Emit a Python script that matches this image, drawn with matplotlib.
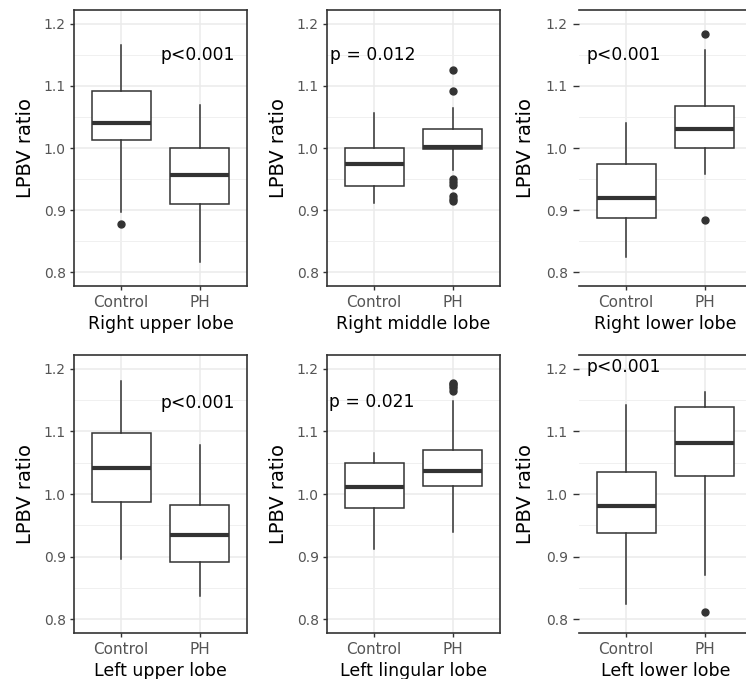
import matplotlib
matplotlib.use("Agg")
import matplotlib.pyplot as plt
import numpy as np

plt.rcParams['font.family'] = ['DejaVu Sans']

# lobes, in panel order (row by row)
lobes = ["Right upper lobe", "Right middle lobe", "Right lower lobe",
         "Left upper lobe", "Left lingular lobe", "Left lower lobe"]
groups = ["Control", "PH"]
p_labels = ["p<0.001", "p = 0.012", "p<0.001", "p<0.001", "p = 0.021", "p<0.001"]
p_x = [1.97, 0.985, 0.97, 1.97, 0.97, 0.97]
p_y = [1.149, 1.149, 1.149, 1.146, 1.147, 1.203]

# box statistics: [whislo, q1, med, q3, whishi]
control_stats = [
    [0.897, 1.013, 1.041, 1.092, 1.165],
    [0.911, 0.939, 0.975, 1.000, 1.056],
    [0.825, 0.888, 0.920, 0.975, 1.040],
    [0.896, 0.988, 1.041, 1.098, 1.181],
    [0.912, 0.978, 1.011, 1.049, 1.066],
    [0.824, 0.937, 0.981, 1.035, 1.142],
]
ph_stats = [
    [0.816, 0.910, 0.957, 1.000, 1.069],
    [0.964, 0.998, 1.001, 1.031, 1.064],
    [0.958, 1.000, 1.030, 1.068, 1.158],
    [0.837, 0.891, 0.934, 0.982, 1.078],
    [0.940, 1.013, 1.036, 1.070, 1.148],
    [0.870, 1.029, 1.082, 1.139, 1.163],
]
control_out = [[0.877], [], [], [], [], []]
ph_out = [
    [],
    [1.126, 1.091, 0.950, 0.945, 0.941, 0.922, 0.918, 0.915],
    [1.184, 0.884],
    [],
    [1.165, 1.169, 1.172, 1.175, 1.178],
    [0.812],
]

W, H = 746, 679
fig = plt.figure(figsize=(W / 100, H / 100), dpi=100)

col_left = [74, 327, 579]
ax_w = 173
row_top = [10, 355]
ax_h = [276, 278]

line_col = "#333333"
tick_col = "#555555"

def make_stats(s, out):
    return dict(whislo=s[0], q1=s[1], med=s[2], q3=s[3], whishi=s[4], fliers=out)

for i, lobe in enumerate(lobes):
    r, c = divmod(i, 3)
    left = col_left[c] / W
    bottom = 1 - (row_top[r] + ax_h[r]) / H
    ax = fig.add_axes([left, bottom, ax_w / W, ax_h[r] / H])

    stats = [make_stats(control_stats[i], control_out[i]),
             make_stats(ph_stats[i], ph_out[i])]
    ax.bxp(stats, positions=[1, 2], widths=0.75, showcaps=False, patch_artist=True,
           boxprops=dict(facecolor="white", edgecolor=line_col, linewidth=1.1),
           whiskerprops=dict(color=line_col, linewidth=1.1),
           medianprops=dict(color=line_col, linewidth=3),
           flierprops=dict(marker="o", markerfacecolor=line_col, markeredgecolor=line_col,
                           markersize=5),
           zorder=3)

    ax.set_xlim(0.4, 2.6)
    ax.set_ylim(0.778, 1.222)
    ax.set_yticks([0.8, 0.9, 1.0, 1.1, 1.2])
    ax.set_yticklabels(["0.8", "0.9", "1.0", "1.1", "1.2"])
    ax.set_yticks([0.85, 0.95, 1.05, 1.15], minor=True)
    ax.set_xticks([1, 2])
    ax.set_xticklabels(groups)
    ax.grid(True, which="major", color="#ebebeb", linewidth=1.1, zorder=0)
    ax.grid(True, which="minor", axis="y", color="#f0f0f0", linewidth=0.7, zorder=0)
    ax.set_axisbelow(True)

    if c == 2:
        ax.tick_params(axis="y", which="major", length=4.5, pad=3.5)
        ax.spines["left"].set_visible(False)
        ylp = 8
    else:
        ax.tick_params(axis="y", which="major", length=3, pad=3)
        ylp = 6
    ax.tick_params(axis="x", which="major", length=3, pad=3.3)
    ax.tick_params(axis="both", which="major", width=1, color=line_col,
                   labelsize=10, labelcolor=tick_col)
    ax.tick_params(axis="x", labelsize=11)
    ax.tick_params(axis="both", which="minor", length=0)
    for sp in ax.spines.values():
        sp.set_color(line_col)
        sp.set_linewidth(1.2)

    ax.set_ylabel("LPBV ratio", fontsize=14, color="black", labelpad=ylp)
    ax.set_xlabel(lobe, fontsize=12.5, color="black", labelpad=3.5)
    ax.text(p_x[i], p_y[i], p_labels[i], ha="center", va="center", fontsize=12.3, color="black")

fig.savefig("out.png", dpi=100)
